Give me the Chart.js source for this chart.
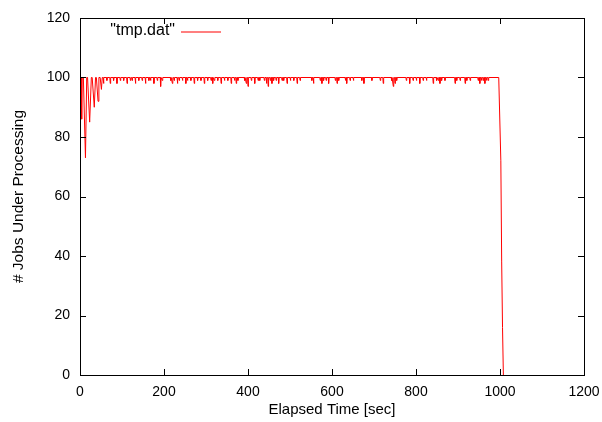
<!DOCTYPE html>
<html>
<head>
<meta charset="utf-8">
<script src="https://cdn.jsdelivr.net/npm/chart.js@4.4.1/dist/chart.umd.min.js"></script>
<style>
  html, body { margin: 0; padding: 0; background: #fff; }
  #wrap { width: 602px; height: 422px; }
</style>
</head>
<body>
<div id="wrap"><canvas id="myChart" width="602" height="422"></canvas></div>
<script>
// start-up: jobs ramp up and oscillate before settling at 100
const rampSec  = [0, 1, 3, 4, 5, 8, 13, 16, 18, 23, 27, 29, 34, 37, 39, 43, 45, 48, 51, 53]
const rampJobs = [0, 100, 100, 86, 100, 100, 73, 100, 100, 85, 100, 100, 90, 100, 100, 92, 100, 100, 96, 100]

// short dips below the 100 plateau (time of dip, jobs at the dip)
const dipSec = [56, 64, 72, 80, 88, 96, 104, 112, 120, 124, 132, 140, 148, 156, 164, 168, 176, 184, 192, 196,
  216, 220, 224, 232, 236, 244, 252, 256, 264, 272, 280, 288, 296, 304, 312, 316, 320, 328, 336, 344,
  352, 360, 368, 372, 376, 392, 396, 400, 408, 416, 424, 428, 439, 444, 448, 453, 457, 461, 467, 473,
  481, 485, 493, 501, 509, 517, 524, 552, 556, 572, 576, 580, 586, 592, 608, 612, 616, 632, 635, 643,
  651, 671, 676, 695, 715, 722, 742, 746, 750, 754, 777, 785, 793, 801, 809, 817, 825, 841, 849, 853,
  857, 861, 869, 893, 897, 905, 917, 921, 929, 948, 952, 956, 960, 964, 968, 972]
const dipJobs = [98, 99, 98, 99, 98, 99, 99, 98, 99, 99, 98, 99, 99, 98, 99, 99, 98, 99, 97, 99,
  99, 98, 99, 98, 99, 99, 98, 99, 99, 98, 99, 99, 98, 99, 99, 98, 99, 99, 98, 99,
  99, 98, 99, 98, 99, 99, 98, 97, 99, 98, 99, 99, 99, 98, 97, 99, 98, 99, 99, 98,
  99, 99, 98, 99, 99, 98, 99, 99, 98, 99, 98, 99, 99, 98, 99, 98, 99, 99, 98, 99,
  99, 99, 98, 99, 99, 98, 99, 97, 98, 99, 99, 98, 99, 99, 98, 99, 99, 98, 99, 99,
  98, 99, 99, 98, 99, 99, 98, 99, 99, 99, 98, 99, 99, 98, 99, 99]

// end of run: jobs drain to zero
const endSec  = [997, 1002, 1004, 1006, 1008]
const endJobs = [100, 72, 38, 16, 0]

const xTicks = [0, 200, 400, 600, 800, 1000, 1200]
const yTicks = [0, 20, 40, 60, 80, 100, 120]
const seriesName = '"tmp.dat"'

// build the point list (1 s sampling around each dip)
let points = []
rampSec.forEach((t, i) => points.push({x: t, y: rampJobs[i]}))
dipSec.forEach((t, i) => {
  points.push({x: t - 1, y: 100})
  points.push({x: t, y: dipJobs[i]})
  points.push({x: t + 1, y: 100})
})
endSec.forEach((t, i) => points.push({x: t, y: endJobs[i]}))

const fontFam = "'Liberation Sans', Arial, Helvetica, sans-serif"

// gnuplot style frame: full box, inward ticks on all four sides, key at top left
const framePlugin = {
  id: 'frame',
  afterDraw(chart) {
    const ctx = chart.ctx
    const a = chart.chartArea
    const xs = chart.scales.x, ys = chart.scales.y
    ctx.save()
    ctx.strokeStyle = '#000'
    ctx.lineWidth = 1
    ctx.strokeRect(Math.round(a.left) + 0.5, Math.round(a.top) + 0.5,
      Math.round(a.right - a.left), Math.round(a.bottom - a.top))
    ctx.beginPath()
    const tl = 6
    xTicks.forEach(v => {
      const px = Math.round(xs.getPixelForValue(v)) + 0.5
      ctx.moveTo(px, a.bottom); ctx.lineTo(px, a.bottom - tl)
      ctx.moveTo(px, a.top); ctx.lineTo(px, a.top + tl)
    })
    yTicks.forEach(v => {
      const py = Math.round(ys.getPixelForValue(v)) + 0.5
      ctx.moveTo(a.left, py); ctx.lineTo(a.left + tl, py)
      ctx.moveTo(a.right, py); ctx.lineTo(a.right - tl, py)
    })
    ctx.stroke()

    // key
    ctx.font = '16px ' + fontFam
    ctx.fillStyle = '#000'
    ctx.textAlign = 'right'
    ctx.textBaseline = 'middle'
    ctx.fillText(seriesName, 175, 31)
    ctx.beginPath()
    ctx.strokeStyle = '#ff0000'
    ctx.lineWidth = 1.2
    ctx.moveTo(181, 32); ctx.lineTo(221, 32)
    ctx.stroke()
    ctx.restore()
  }
}

var ctx = document.getElementById('myChart').getContext('2d')
var myChart = new Chart(ctx, {
  type: 'line',
  data: {
    datasets: [{
      label: seriesName,
      data: points,
      borderColor: '#ff0000',
      borderWidth: 1,
      pointRadius: 0,
      tension: 0,
      fill: false
    }]
  },
  options: {
    responsive: false,
    animation: false,
    layout: { padding: { top: 18, right: 18, left: 0, bottom: 0 } },
    plugins: { legend: { display: false }, tooltip: { enabled: false } },
    scales: {
      x: {
        type: 'linear',
        min: 0, max: 1200,
        afterBuildTicks: s => { s.ticks = xTicks.map(v => ({value: v})) },
        afterFit: s => { s.height = 47; s.paddingLeft = 0; s.paddingRight = 0 },
        grid: { display: true, drawOnChartArea: false, drawTicks: false },
        border: { display: false },
        ticks: { color: '#000', padding: 9, maxRotation: 0, callback: v => String(v),
          font: { size: 14, family: fontFam } },
        title: { display: true, text: 'Elapsed Time [sec]', color: '#000',
          padding: { top: 0, bottom: 3 }, font: { size: 15, family: fontFam } }
      },
      y: {
        min: 0, max: 120,
        afterBuildTicks: s => { s.ticks = yTicks.map(v => ({value: v})) },
        afterFit: s => { s.width = 80; s.paddingTop = 0; s.paddingBottom = 0 },
        grid: { display: true, drawOnChartArea: false, drawTicks: false },
        border: { display: false },
        ticks: { color: '#000', padding: 10, callback: v => String(v),
          font: { size: 14, family: fontFam } },
        title: { display: true, text: '# Jobs Under Processing', color: '#000',
          padding: { top: 9, bottom: 0 }, font: { size: 15.5, family: fontFam } }
      }
    }
  },
  plugins: [framePlugin]
})
</script>
</body>
</html>
